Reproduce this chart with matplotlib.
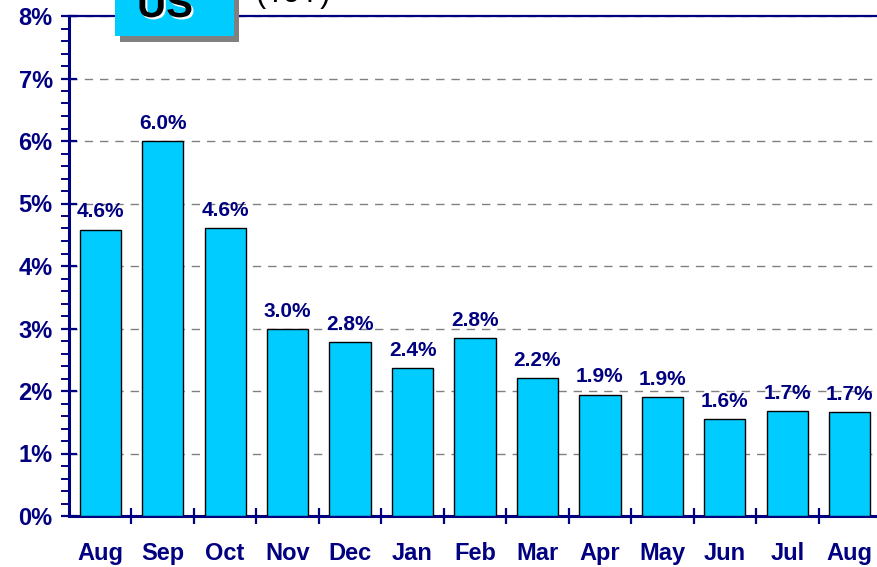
import numpy as np
import matplotlib
matplotlib.use("Agg")
import matplotlib.pyplot as plt
import matplotlib.patheffects as pe
from matplotlib.patches import Rectangle
from matplotlib.ticker import MultipleLocator, FixedLocator, PercentFormatter

plt.rcParams["font.family"] = ["Liberation Sans", "DejaVu Sans"]

# data
months = ["Aug", "Sep", "Oct", "Nov", "Dec", "Jan", "Feb",
          "Mar", "Apr", "May", "Jun", "Jul", "Aug"]
values = [4.58, 6.0, 4.61, 2.99, 2.78, 2.37, 2.85,
          2.21, 1.94, 1.90, 1.55, 1.68, 1.66]
value_labels = ["4.6%", "6.0%", "4.6%", "3.0%", "2.8%", "2.4%", "2.8%",
                "2.2%", "1.9%", "1.9%", "1.6%", "1.7%", "1.7%"]
y_max = 8

NAVY = "#000080"
BAR = "#00CCFF"

W, H = 878, 567
fig = plt.figure(figsize=(W / 100, H / 100), dpi=100)
ax = fig.add_axes([69 / W, 51 / H, 812 / W, 500 / H])

x = np.arange(len(months))
ax.bar(x, values, width=0.66, color=BAR, edgecolor="black", linewidth=1.0, zorder=3)
for xi, v, lab in zip(x, values, value_labels):
    ax.annotate(lab, (xi, v), xytext=(0, 6), textcoords="offset points",
                ha="center", va="bottom", color=NAVY, fontsize=15, fontweight="bold",
                zorder=4)

ax.set_xlim(-0.5, len(months) - 0.5)
ax.set_ylim(0, y_max)

# y axis
ax.yaxis.set_major_locator(MultipleLocator(1))
ax.yaxis.set_minor_locator(MultipleLocator(0.2))
ax.yaxis.set_major_formatter(PercentFormatter(decimals=0))
ax.tick_params(axis="y", which="major", direction="inout", length=11.5, width=1.6,
               color=NAVY, labelcolor=NAVY, labelsize=17, pad=6)
ax.tick_params(axis="y", which="minor", direction="out", length=6, width=1.4, color=NAVY)
for lab in ax.get_yticklabels():
    lab.set_fontweight("bold")

# x axis: labels at centres, ticks at category borders
ax.set_xticks(x)
ax.set_xticklabels(months, fontweight="bold")
ax.xaxis.set_minor_locator(FixedLocator(np.arange(0.5, len(months) - 0.5, 1)))
ax.tick_params(axis="x", which="major", length=0, labelcolor=NAVY, labelsize=17, pad=19)
ax.tick_params(axis="x", which="minor", direction="inout", length=12, width=1.6, color=NAVY)

ax.grid(axis="y", which="major", color="#808080", linestyle=(0, (6, 5)), linewidth=1.0, zorder=0)

for side in ["left", "bottom"]:
    ax.spines[side].set_color(NAVY)
    ax.spines[side].set_linewidth(2.2)
ax.spines["top"].set_color(NAVY)
ax.spines["top"].set_linewidth(1.6)
ax.spines["right"].set_visible(False)

# "US" title box, partly cut off at the top (as in the reference)
shadow = Rectangle((120 / W, 1 - 41.5 / H), 119 / W, 60 / H, transform=fig.transFigure,
                   facecolor="#808080", edgecolor="none", zorder=5)
box = Rectangle((115 / W, 1 - 35.5 / H), 119 / W, 60 / H, transform=fig.transFigure,
                facecolor=BAR, edgecolor="none", zorder=6)
fig.add_artist(shadow)
fig.add_artist(box)
fig.text(165 / W, 1 - 17 / H, "US", ha="center", va="baseline", fontsize=29,
         fontweight="bold", color="black", zorder=7,
         path_effects=[pe.withSimplePatchShadow(offset=(1.5, -1.5), shadow_rgbFace="white",
                                                alpha=1.0)])
fig.text(255 / W, 1 - 2 / H, "(YoY)", ha="left", va="baseline", fontsize=22,
         color="black", zorder=7)

fig.savefig("out.png", dpi=100)
